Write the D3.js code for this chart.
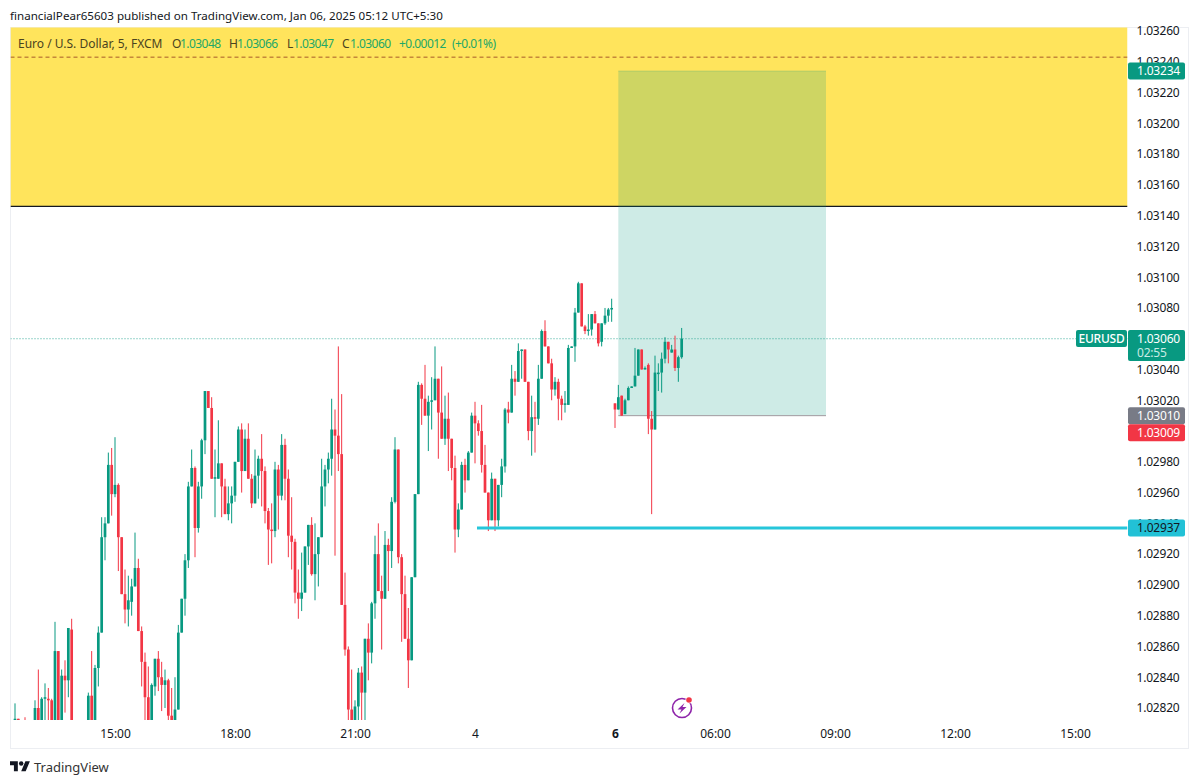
<!DOCTYPE html>
<html><head><meta charset="utf-8">
<script src="https://cdn.jsdelivr.net/npm/d3@7"></script>
<style>
html,body{margin:0;padding:0;background:#fff}
svg{display:block}
text{font-family:"Noto Sans",sans-serif}
</style></head><body>
<svg id="c" width="1200" height="784"></svg>
<script>
const open=[
1.02811,1.02813,1.02807,1.02811,1.02806,1.02809,1.02808,1.02820,1.02808,1.02826,1.02826,1.02825,1.02809,1.02857,1.02808,1.02841,1.02838,1.02871,1.02803,1.02808,
1.02804,1.02808,1.02809,1.02828,1.02809,1.02846,1.02869,1.02931,1.02940,1.02978,1.02959,1.02965,1.02931,1.02894,1.02884,1.02889,1.02899,1.02911,1.02870,1.02850,
1.02827,1.02808,1.02834,1.02852,1.02840,1.02835,1.02838,1.02815,1.02808,1.02819,1.02869,1.02891,1.02916,1.02964,1.02976,1.02937,1.02964,1.02994,1.03026,1.03015,
1.02969,1.02969,1.02979,1.02964,1.02946,1.02953,1.02958,1.02980,1.03001,1.02974,1.02995,1.02969,1.02953,1.02971,1.02982,1.02974,1.02948,1.02936,1.02935,1.02975,
1.02958,1.02991,1.02969,1.02932,1.02928,1.02895,1.02891,1.02895,1.02925,1.02939,1.02907,1.02920,1.02931,1.02964,1.02975,1.02982,1.03001,1.02997,1.02985,1.02887,
1.02858,1.02819,1.02810,1.02821,1.02843,1.02830,1.02865,1.02856,1.02888,1.02920,1.02896,1.02891,1.02926,1.02922,1.02954,1.02988,1.02918,1.02894,1.02865,1.02851,
1.02905,1.02959,1.03030,1.03021,1.03010,1.03019,1.03020,1.03034,1.03012,1.02995,1.03008,1.02995,1.02976,1.02936,1.02949,1.02978,1.02968,1.02986,1.03010,1.03005,
1.03000,1.02978,1.02960,1.02942,1.02969,1.02942,1.02965,1.02977,1.03014,1.03012,1.03034,1.03032,1.03052,1.03053,1.03032,1.03000,1.03009,1.03008,1.03034,1.03065,
1.03055,1.03044,1.03027,1.03032,1.03021,1.03017,1.03017,1.03054,1.03055,1.03077,1.03096,1.03068,1.03065,1.03066,1.03076,1.03070,1.03058,1.03070,1.03075,1.03079,
1.03018,1.03014,1.03023,1.03011,1.03020,1.03028,1.03029,1.03036,1.03053,1.03040,1.03043,1.03008,1.03001,1.03037,1.03038,1.03047,1.03058,1.03051,1.03053,1.03041,1.03048];
const close=[
1.02813,1.02810,1.02810,1.02808,1.02809,1.02811,1.02820,1.02808,1.02826,1.02827,1.02825,1.02808,1.02857,1.02808,1.02841,1.02838,1.02872,1.02805,1.02808,1.02804,
1.02809,1.02810,1.02828,1.02809,1.02846,1.02869,1.02931,1.02940,1.02978,1.02959,1.02965,1.02931,1.02894,1.02884,1.02890,1.02899,1.02911,1.02870,1.02850,1.02827,
1.02808,1.02835,1.02852,1.02840,1.02835,1.02838,1.02815,1.02808,1.02819,1.02869,1.02891,1.02916,1.02964,1.02976,1.02937,1.02964,1.02994,1.03026,1.03015,1.02969,
1.02970,1.02979,1.02964,1.02946,1.02953,1.02958,1.02980,1.03001,1.02974,1.02995,1.02969,1.02953,1.02971,1.02982,1.02974,1.02948,1.02936,1.02935,1.02975,1.02958,
1.02991,1.02969,1.02932,1.02928,1.02895,1.02891,1.02895,1.02925,1.02939,1.02907,1.02920,1.02931,1.02964,1.02975,1.02982,1.03001,1.02997,1.02985,1.02887,1.02858,
1.02819,1.02811,1.02821,1.02843,1.02830,1.02865,1.02856,1.02888,1.02920,1.02896,1.02891,1.02926,1.02922,1.02954,1.02988,1.02918,1.02894,1.02865,1.02851,1.02905,
1.02959,1.03030,1.03021,1.03010,1.03019,1.03020,1.03034,1.03012,1.02995,1.03008,1.02995,1.02976,1.02936,1.02949,1.02978,1.02968,1.02986,1.03010,1.03005,1.03000,
1.02978,1.02960,1.02942,1.02969,1.02942,1.02965,1.02977,1.03014,1.03012,1.03034,1.03032,1.03052,1.03053,1.03032,1.03000,1.03009,1.03008,1.03034,1.03065,1.03055,
1.03044,1.03027,1.03032,1.03021,1.03017,1.03018,1.03054,1.03055,1.03077,1.03096,1.03068,1.03065,1.03066,1.03076,1.03070,1.03057,1.03070,1.03075,1.03079,1.03080,
1.03014,1.03022,1.03010,1.03020,1.03028,1.03029,1.03036,1.03053,1.03040,1.03041,1.03008,1.03001,1.03038,1.03038,1.03047,1.03058,1.03053,1.03053,1.03041,1.03048,1.03060];
const high=[
1.02823,1.02813,1.02811,1.02814,1.02811,1.02812,1.02825,1.02845,1.02827,1.02836,1.02833,1.02826,1.02876,1.02857,1.02845,1.02851,1.02872,1.02878,1.02810,1.02810,
1.02810,1.02811,1.02830,1.02857,1.02848,1.02873,1.02944,1.02944,1.02986,1.02989,1.02996,1.02966,1.02931,1.02910,1.02906,1.02904,1.02934,1.02917,1.02873,1.02856,
1.02847,1.02836,1.02852,1.02857,1.02850,1.02845,1.02839,1.02833,1.02840,1.02874,1.02891,1.02920,1.02967,1.02988,1.02977,1.02967,1.02995,1.03026,1.03026,1.03022,
1.02988,1.03007,1.02979,1.02969,1.02964,1.02964,1.02980,1.03003,1.03005,1.03001,1.03005,1.02972,1.02988,1.02984,1.02998,1.02977,1.02950,1.02953,1.02980,1.02978,
1.02998,1.02995,1.02975,1.02957,1.02930,1.02910,1.02921,1.02925,1.02939,1.02944,1.02940,1.02931,1.02982,1.02978,1.02986,1.03021,1.03014,1.03055,1.03024,1.02908,
1.02860,1.02845,1.02825,1.02846,1.02847,1.02865,1.02875,1.02889,1.02932,1.02940,1.02906,1.02935,1.02930,1.02957,1.02996,1.02988,1.02920,1.02906,1.02885,1.02905,
1.02959,1.03032,1.03031,1.03043,1.03023,1.03035,1.03055,1.03034,1.03042,1.03023,1.03025,1.02995,1.02984,1.02953,1.02980,1.02982,1.02987,1.03012,1.03019,1.03007,
1.03017,1.02991,1.02960,1.02973,1.02969,1.02965,1.02982,1.03015,1.03019,1.03043,1.03039,1.03057,1.03053,1.03053,1.03032,1.03023,1.03019,1.03043,1.03066,1.03072,
1.03055,1.03047,1.03035,1.03034,1.03023,1.03026,1.03056,1.03055,1.03080,1.03097,1.03096,1.03069,1.03076,1.03076,1.03078,1.03070,1.03070,1.03080,1.03080,1.03086,
1.03018,1.03030,1.03023,1.03021,1.03029,1.03029,1.03054,1.03053,1.03053,1.03042,1.03044,1.03013,1.03049,1.03044,1.03051,1.03061,1.03058,1.03056,1.03062,1.03049,1.03067];
const low=[
1.02808,1.02809,1.02805,1.02806,1.02804,1.02807,1.02806,1.02806,1.02806,1.02810,1.02810,1.02805,1.02807,1.02806,1.02806,1.02817,1.02827,1.02803,1.02801,1.02802,
1.02802,1.02803,1.02807,1.02806,1.02807,1.02834,1.02869,1.02916,1.02940,1.02945,1.02957,1.02909,1.02894,1.02875,1.02873,1.02880,1.02899,1.02870,1.02834,1.02810,
1.02806,1.02806,1.02828,1.02831,1.02818,1.02820,1.02811,1.02806,1.02806,1.02819,1.02869,1.02880,1.02911,1.02964,1.02918,1.02934,1.02956,1.02985,1.03015,1.02969,
1.02944,1.02969,1.02944,1.02946,1.02942,1.02940,1.02954,1.02980,1.02960,1.02974,1.02969,1.02950,1.02953,1.02956,1.02951,1.02940,1.02913,1.02914,1.02931,1.02936,
1.02955,1.02955,1.02918,1.02910,1.02888,1.02878,1.02883,1.02895,1.02913,1.02906,1.02890,1.02899,1.02931,1.02951,1.02966,1.02971,1.02919,1.02974,1.02887,1.02854,
1.02808,1.02808,1.02808,1.02809,1.02809,1.02809,1.02838,1.02849,1.02878,1.02896,1.02858,1.02891,1.02896,1.02911,1.02953,1.02914,1.02863,1.02865,1.02833,1.02851,
1.02905,1.02959,1.03004,1.03010,1.02987,1.03001,1.03020,1.02982,1.02995,1.02991,1.02974,1.02968,1.02921,1.02931,1.02949,1.02960,1.02968,1.02986,1.02979,1.02997,
1.02973,1.02960,1.02935,1.02942,1.02935,1.02938,1.02957,1.02973,1.03005,1.03012,1.03023,1.03032,1.03034,1.03032,1.02994,1.02984,1.02986,1.03004,1.03034,1.03055,
1.03044,1.03020,1.03023,1.03007,1.03007,1.03012,1.03017,1.03054,1.03045,1.03077,1.03068,1.03063,1.03062,1.03062,1.03070,1.03055,1.03055,1.03069,1.03071,1.03071,
1.03002,1.03014,1.03010,1.03011,1.03020,1.03028,1.03029,1.03036,1.03040,1.03040,1.02998,1.02946,1.03001,1.03026,1.03025,1.03044,1.03044,1.03051,1.03039,1.03032,1.03047];

const priceTicks=[1.0326,1.0324,1.0322,1.032,1.0318,1.0316,1.0314,1.0312,1.031,1.0308,1.0306,1.0304,1.0302,1.03,1.0298,1.0296,1.0294,1.0292,1.029,1.0288,1.0286,1.0284,1.0282];
const timeTickBars=[30,66,102,138,180,210,246,282,318];
const timeTickLabels=["15:00","18:00","21:00","4","6","06:00","09:00","12:00","15:00"];

const zoneLine=1.03146, zoneTop=1.0335, dashedLevel=1.03243;
const targetPrice=1.03234, entryPrice=1.03010, stopPrice=1.03009, supportPrice=1.02937, lastPrice=1.03060;
const targetBars=[181,243.3], supportStartBar=138.6;
const legendParts=[
 ["Euro / U.S. Dollar, 5, FXCM",18,"n"],["O",172,"n"],["1.03048",180,"v"],["H",229,"n"],["1.03066",237,"v"],
 ["L",287,"n"],["1.03047",293,"v"],["C",342,"n"],["1.03060",350,"v"],["+0.00012",399,"v"],["(+0.01%)",452,"v"]];

const svg=d3.select("#c");
const W={l:10.5,r:1127.5,t:27.5,b:720,fr:1188.5,fb:748.5};
const x=d3.scaleLinear().domain([0,318]).range([15,1075]);
const y=d3.scaleLinear().domain([1.0282,1.0326]).range([708,31]);
const GREEN="#089981",RED="#f23645";

svg.append("defs").append("clipPath").attr("id","pane").append("rect")
 .attr("x",W.l).attr("y",W.t).attr("width",W.r-W.l).attr("height",W.b-W.t);

// header
svg.append("text").attr("x",10).attr("y",20).attr("font-size",11.6).attr("fill","#131722")
 .text("financialPear65603 published on TradingView.com, Jan 06, 2025 05:12 UTC+5:30");

// frame
svg.append("rect").attr("x",W.l).attr("y",W.t).attr("width",W.fr-W.l).attr("height",W.fb-W.t)
 .attr("fill","#fff").attr("stroke","#eceef2");

// price axis
const ya=svg.append("g").attr("transform",`translate(${W.r},0)`)
 .call(d3.axisRight(y).tickValues(priceTicks).tickFormat(d3.format(".5f")).tickSize(0).tickPadding(9));
ya.select(".domain").remove();
ya.selectAll("text").attr("font-size",12).attr("fill","#131722").attr("letter-spacing","-.2px").attr("font-family",'"Noto Sans",sans-serif');

// time axis
const xa=svg.append("g").attr("transform",`translate(0,${W.b})`)
 .call(d3.axisBottom(x).tickValues(timeTickBars).tickFormat((d,i)=>timeTickLabels[i]).tickSize(0).tickPadding(9));
xa.select(".domain").remove();
xa.selectAll("text").attr("font-size",12).attr("fill","#131722").attr("font-family",'"Noto Sans",sans-serif')
 .attr("font-weight",(d,i)=>timeTickLabels[i]==="6"?700:400);

const pane=svg.append("g").attr("clip-path","url(#pane)");
// yellow zone
pane.append("rect").attr("x",W.l).attr("width",W.r-W.l).attr("y",y(zoneTop)).attr("height",y(zoneLine)-y(zoneTop)).attr("fill","#ffe45c");
pane.append("line").attr("x1",W.l).attr("x2",W.r).attr("y1",y(zoneLine)).attr("y2",y(zoneLine)).attr("stroke","#131722").attr("stroke-width",1.2);
pane.append("line").attr("x1",W.l).attr("x2",W.r).attr("y1",y(dashedLevel)).attr("y2",y(dashedLevel)).attr("stroke","#a85a2a").attr("stroke-dasharray","4 3");
// target box
pane.append("rect").attr("x",x(targetBars[0])).attr("width",x(targetBars[1])-x(targetBars[0])).attr("y",y(targetPrice)).attr("height",y(entryPrice)-y(targetPrice)).attr("fill",GREEN).attr("fill-opacity",.2);
pane.append("line").attr("x1",x(targetBars[0])).attr("x2",x(targetBars[1])).attr("y1",y(entryPrice)).attr("y2",y(entryPrice)).attr("stroke","#a09a9e");
pane.append("line").attr("x1",x(targetBars[0])).attr("x2",x(targetBars[1])).attr("y1",y(targetPrice)).attr("y2",y(targetPrice)).attr("stroke",GREEN).attr("stroke-opacity",.2);
// last price dotted
pane.append("line").attr("x1",W.l).attr("x2",W.r).attr("y1",y(lastPrice)).attr("y2",y(lastPrice)).attr("stroke",GREEN).attr("stroke-opacity",.8).attr("stroke-dasharray","1 2");

// candles
const bars=open.map((o,i)=>({i,o,c:close[i],h:high[i],l:low[i]}));
const col=d=>d.c>=d.o?GREEN:RED;
const cg=pane.append("g");
cg.selectAll("line").data(bars).join("line")
 .attr("x1",d=>x(d.i)).attr("x2",d=>x(d.i)).attr("y1",d=>y(d.h)).attr("y2",d=>y(d.l)).attr("stroke",col).attr("stroke-width",1);
cg.selectAll("rect").data(bars).join("rect")
 .attr("x",d=>x(d.i)-1.35).attr("width",2.7)
 .attr("y",d=>y(Math.max(d.o,d.c))).attr("height",d=>Math.max(1,Math.abs(y(d.o)-y(d.c)))).attr("fill",col);

// support line
pane.append("line").attr("x1",x(supportStartBar)).attr("x2",W.r).attr("y1",y(supportPrice)).attr("y2",y(supportPrice)).attr("stroke","#26c6da").attr("stroke-width",3);

// legend
svg.append("g").selectAll("text").data(legendParts).join("text")
 .attr("x",d=>d[1]).attr("y",47.5).attr("font-size",12)
 .attr("letter-spacing",d=>d[2]==="v"?"-.55px":"0")
 .attr("fill",d=>d[2]==="v"?"#22a768":"#4a4320").text(d=>d[0]);

// price tags
const tags=[
 {p:targetPrice,t:"1.03234",bg:GREEN,fg:"#fff"},
 {p:entryPrice,t:"1.03010",bg:"#787b86",fg:"#fff"},
 {p:stopPrice,t:"1.03009",bg:RED,fg:"#fff",shift:17},
 {p:supportPrice,t:"1.02937",bg:"#22c1d6",fg:"#131722"}];
const tg=svg.append("g").attr("letter-spacing","-.2px");
tags.forEach(d=>{
 const cy=d.shift?y(entryPrice)+d.shift:y(d.p);
 tg.append("rect").attr("x",1128).attr("width",57).attr("y",cy-8.5).attr("height",17).attr("rx",2).attr("fill",d.bg);
 tg.append("text").attr("x",1137).attr("y",cy+4.3).attr("font-size",12).attr("fill",d.fg).text(d.t);
});
tg.append("rect").attr("x",1128).attr("width",57).attr("y",y(lastPrice)-8.7).attr("height",31).attr("rx",2).attr("fill",GREEN);
tg.append("text").attr("x",1137).attr("y",y(lastPrice)+4.3).attr("font-size",12).attr("fill","#fff").text("1.03060");
tg.append("text").attr("x",1137).attr("y",y(lastPrice)+18.3).attr("font-size",12).attr("fill","#c8ebe4").text("02:55");
tg.append("rect").attr("x",1076).attr("width",51).attr("y",y(lastPrice)-8.7).attr("height",17).attr("rx",2).attr("fill",GREEN);
tg.append("text").attr("x",1101.5).attr("y",y(lastPrice)+4.3).attr("text-anchor","middle").attr("font-size",12).attr("font-weight",500).attr("fill","#fff").text("EURUSD");

// flash icon
const ic=svg.append("g").attr("transform","translate(682,708)");
ic.append("circle").attr("r",9.5).attr("fill","none").attr("stroke","#8e24aa").attr("stroke-width",1.6);
ic.append("path").attr("d","M2.5-5L-4.5 1.5H-.5L-2.5 5.5L4.5-1H.5Z").attr("fill","#8e24aa");
ic.append("circle").attr("cx",7).attr("cy",-8).attr("r",3.6).attr("fill","#fff");
ic.append("circle").attr("cx",7).attr("cy",-8).attr("r",2.8).attr("fill","#f23645");

// footer logo
const lg=svg.append("g").attr("transform","translate(10,759) scale(.56)");
lg.append("path").attr("d","M14 22H7V11H0V4h14v18zM28 22h-8l7.5-18h8L28 22z").attr("fill","#131722");
lg.append("circle").attr("cx",20).attr("cy",8).attr("r",4).attr("fill","#131722");
svg.append("text").attr("x",34).attr("y",772).attr("font-size",13).attr("fill","#333").text("TradingView");
</script></body></html>
